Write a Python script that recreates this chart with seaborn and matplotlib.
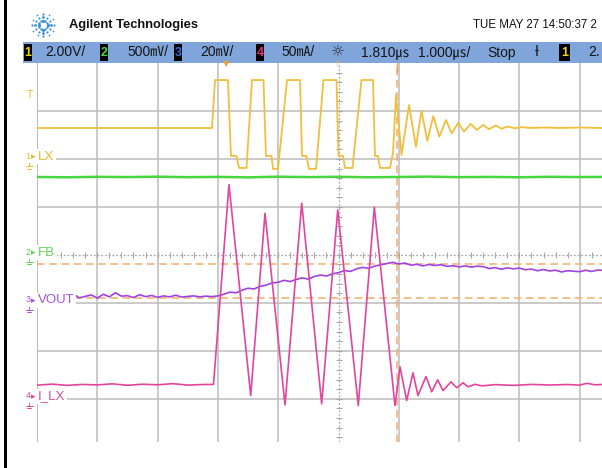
import numpy as np
import pandas as pd
import matplotlib
matplotlib.use("Agg")
import matplotlib.pyplot as plt
import seaborn as sns
from matplotlib.patches import Rectangle

# ---------------- data (read from the screen) ----------------
# time in µs from the left edge of the screen (1 µs/div)
lx_t = [0.0, 2.902, 2.952, 3.167, 3.217, 3.308, 3.350, 3.474, 3.566, 3.756, 3.797, 3.889,
        3.914, 3.997, 4.146, 4.362, 4.395, 4.469, 4.511, 4.627, 4.751, 4.967, 5.000, 5.075,
        5.108, 5.232, 5.381, 5.572, 5.605, 5.655, 5.688, 5.854, 5.904, 5.954, 6.045, 6.169,
        6.285, 6.376, 6.473, 6.572, 6.672, 6.783, 6.877, 6.987, 7.081, 7.192, 7.292, 7.401,
        7.491, 7.612, 7.695, 7.811, 7.927, 8.043, 8.176, 8.425, 8.673, 9.005, 9.370]
lx_v = [1.29, 1.29, 3.29, 3.29, 0.125, 0.125, -0.375, -0.375, 3.29, 3.29, 0.125, 0.125,
        -0.417, -0.417, 3.29, 3.29, 0.125, 0.125, -0.417, -0.417, 3.29, 3.29, 0.125, 0.125,
        -0.375, -0.375, 3.29, 3.29, 0.125, 0.125, -0.375, -0.375, 0.25, 2.667, 0.167, 2.25,
        0.5, 2.01, 0.75, 1.79, 0.93, 1.625, 1.07, 1.51, 1.14, 1.46, 1.21, 1.42,
        1.24, 1.40, 1.26, 1.35, 1.28, 1.33, 1.29, 1.31, 1.29, 1.31, 1.29]

fb_t = [0, 0.5, 1.0, 1.5, 2.0, 2.5, 3.0, 3.5, 4.0, 4.5, 5.0, 5.5, 6.0, 6.5, 7.0, 7.5,
        8.0, 8.5, 9.0, 9.37]
fb_v = [0.812, 0.809, 0.814, 0.811, 0.815, 0.810, 0.813, 0.808, 0.815, 0.811, 0.814,
        0.809, 0.812, 0.816, 0.810, 0.813, 0.809, 0.814, 0.811, 0.813]

vout_mv = [2.4, 3.1, 2.2, 2.9, 3.5, 2.6, 3.8, 2.1, 2.7, 3.3,
           2.0, 3.6, 2.5, 4.2, 2.8, 3.0, 2.2, 3.4, 2.6, 3.1,
           2.3, 2.9, 2.5, 3.2, 2.4, 2.7, 2.9, 2.5, 2.8, 2.6,
           2.9, 3.6, 4.5, 4.2, 5.3, 6.1, 5.8, 6.9, 7.4, 8.3,
           8.6, 9.4, 8.9, 9.8, 10.4, 9.9, 11.0, 11.6, 11.2, 12.1,
           12.6, 13.5, 13.1, 14.2, 14.8, 14.4, 15.3, 15.9, 16.4, 16.9,
           16.2, 16.6, 15.7, 16.1, 15.4, 16.0, 15.6, 15.9, 15.2, 15.5,
           15.0, 15.4, 14.9, 15.3, 15.1, 14.3, 14.7, 14.0, 14.6, 14.2,
           14.5, 13.8, 14.1, 13.4, 13.9, 13.3, 13.6, 12.9, 13.4, 13.2,
           13.0, 13.6, 13.1, 13.7, 13.5]
vout_t = np.round(np.arange(len(vout_mv)) * 0.1, 2)   # 0.1 µs sample grid

ilx_t = [0.0, 0.25, 0.5, 0.75, 1.0, 1.25, 1.5, 1.75, 2.0, 2.25, 2.5, 2.75, 2.927,
         3.184, 3.544, 3.781, 4.113, 4.390, 4.721, 4.987, 5.328, 5.594, 5.937,
         6.020, 6.131, 6.235, 6.318, 6.451, 6.546, 6.645, 6.733, 6.866, 6.960, 7.065,
         7.148, 7.264, 7.380, 7.6, 7.9, 8.2, 8.5, 8.8, 9.0, 9.12, 9.25, 9.37]
ilx_ma = [14.2, 15.3, 14.0, 15.0, 14.5, 15.6, 14.1, 15.2, 14.6, 15.8, 14.3, 14.9, 15.0,
          223.2, 3.4, 193.4, -6.3, 203.9, -5.2, 196.9, -7.0, 199.7, -7.0,
          33.3, -1.8, 27.1, 3.4, 23.2, 7.3, 19.8, 8.6, 17.7, 11.5, 16.7,
          12.5, 15.1, 13.5, 14.8, 14.0, 15.0, 14.4, 14.9, 14.3, 16.2, 14.6, 14.9]

cursor_t = 5.965            # µs
cursor_mv = [16.1, 2.0]     # VOUT cursors, mV

channels = ["LX", "FB", "VOUT", "I_LX"]
ch_scale = {"LX": 2.0, "FB": 0.5, "VOUT": 20.0, "I_LX": 50.0}   # units per div
ch_ground = {"LX": 6, "FB": 4, "VOUT": 3, "I_LX": 1}           # div from bottom
ch_color = {"LX": "#f2bf3c", "FB": "#48d640", "VOUT": "#a042e0", "I_LX": "#e2449e"}
ch_label_color = {"LX": "#eab830", "FB": "#62d458", "VOUT": "#a850e6", "I_LX": "#e04a98"}
ch_num = {"LX": "1", "FB": "2", "VOUT": "3", "I_LX": "4"}

bar_texts = ["2.00V/", "500㎷/", "20㎷/", "50㎃/", "1.810㎲", "1.000㎲/", "Stop"]
header_title = "Agilent Technologies"
header_date = "TUE MAY 27 14:50:37 2"

# ---------------- figure ----------------
sns.set_style("white")
plt.rcParams["font.family"] = ["Liberation Sans", "DejaVu Sans", "Noto Sans CJK JP"]

W, H = 602, 468
fig = plt.figure(figsize=(W / 100, H / 100), dpi=100)
fig.patch.set_facecolor("white")

top_px, bot_px, left_px = 63, 442, 37
ax = fig.add_axes([left_px / W, (H - bot_px) / H, (W - left_px) / W, (bot_px - top_px) / H])
ax.set_xlim(0, (W - left_px) / 60.3)
ax.set_ylim(0.1, 8)
for s in ax.spines.values():
    s.set_visible(False)
ax.set_xticks([]); ax.set_yticks([])

grid_c = "#bcbcbc"
for t in range(0, 10):
    if t == 5:
        continue
    ax.axvline(t, color=("#a8a8a8" if t == 0 else grid_c), lw=1.1, zorder=1)
for y in range(1, 8):
    if y == 4:
        continue
    ax.axhline(y, color=grid_c, lw=1.1, zorder=1)
# centre axes: dotted with minor ticks
ax.axvline(5, color="#a8a8a8", lw=0.9, ls=(0, (1.5, 1.5)), zorder=1)
ax.axhline(4, color="#a8a8a8", lw=0.9, ls=(0, (1.5, 1.5)), zorder=1)
tk = np.arange(0.2, 9.4, 0.2)
ax.plot(tk, np.full_like(tk, 4.0), ls="none", marker="|", ms=4, mew=0.8, color="#a8a8a8", zorder=1)
tky = np.arange(0.2, 8.0, 0.2)
ax.plot(np.full_like(tky, 5.0), tky, ls="none", marker="_", ms=4, mew=0.8, color="#a8a8a8", zorder=1)

# cursors
cur_c = "#f4ad6a"
ax.axvline(cursor_t, color=cur_c, lw=1.1, ls=(0, (5, 3)), zorder=2)
for mv in cursor_mv:
    ax.axhline(ch_ground["VOUT"] + mv / ch_scale["VOUT"], color=cur_c, lw=1.1, ls=(0, (5, 3)), zorder=2)

# traces
traces = {
    "FB": (fb_t, fb_v, 1.8),
    "LX": (lx_t, lx_v, 1.3),
    "VOUT": (vout_t, vout_mv, 1.2),
    "I_LX": (ilx_t, ilx_ma, 1.2),
}
for ch in ["FB", "LX", "VOUT", "I_LX"]:
    t, v, lw = traces[ch]
    df = pd.DataFrame({"t": t, "y": ch_ground[ch] + np.asarray(v) / ch_scale[ch]})
    sns.lineplot(data=df, x="t", y="y", ax=ax, color=ch_color[ch], lw=lw,
                 estimator=None, sort=False, zorder=3)
ax.set_xlabel(""); ax.set_ylabel("")
ax.set_xticks([]); ax.set_yticks([])

# channel labels on the left, with number, arrow and ground symbol
for ch in channels:
    g = ch_ground[ch]
    c = ch_label_color[ch]
    ax.text(0.018, g + 0.05, ch, color=c, fontsize=9.5, va="center", ha="left", clip_on=False,
            zorder=6, bbox=dict(facecolor="white", edgecolor="none", pad=1.0))
    ax.text(-0.19, g + 0.06, ch_num[ch], color=c, fontsize=6.5, va="center", ha="left",
            clip_on=False, zorder=6)
    ax.text(-0.105, g + 0.05, "▸", color=c, fontsize=6.5, va="center", ha="left",
            clip_on=False, zorder=6, family=["DejaVu Sans"])
    # ground symbol (no installed font has ⏚)
    gx = -0.13
    ax.plot([gx, gx], [g - 0.08, g - 0.15], color=c, lw=0.7, clip_on=False, zorder=6)
    ax.plot([gx - 0.06, gx + 0.06], [g - 0.15, g - 0.15], color=c, lw=0.7, clip_on=False, zorder=6)
    ax.plot([gx - 0.03, gx + 0.03], [g - 0.20, g - 0.20], color=c, lw=0.7, clip_on=False, zorder=6)
ax.text(-0.12, 7.33, "T", color="#eab830", fontsize=7.5, va="center", ha="center",
        clip_on=False, zorder=6)

# ---------------- header overlay ----------------
ov = fig.add_axes([0, 0, 1, 1])
ov.set_xlim(0, W); ov.set_ylim(H, 0)
ov.axis("off")
ov.set_zorder(5)
ov.patch.set_alpha(0)

# left black border
ov.add_patch(Rectangle((4, 0), 3, H, color="black", lw=0))

# logo (spark)
cx, cy = 43, 25
for k in range(12):
    a = np.pi * 2 * k / 12
    for r, s in [(4.5, 5), (8, 4), (11, 2.5)]:
        ov.scatter(cx + r * np.cos(a), cy + r * np.sin(a), s=s * (1.0 if k % 3 == 0 else 0.6),
                   color="#3a8fd8", lw=0)
ov.text(69, 25, header_title, fontsize=9.3, weight="bold", va="center", ha="left",
        color="#111111")
ov.text(473, 25, header_date, fontsize=8.3, va="center", ha="left", color="#111111")

# status bar
ov.add_patch(Rectangle((23, 42), W - 23, 20.5, color="#80a5da", lw=0))

def box(x, digit, c, w=8):
    ov.add_patch(Rectangle((x, 44), w, 16.5, color="black", lw=0))
    ov.text(x + w / 2, 52.5, digit, color=c, fontsize=9, weight="bold", va="center", ha="center")

box(24, "1", "#f0d21a")
box(100, "2", "#3ee03a")
box(174, "3", "#3a6ee8")
box(256, "4", "#e2327a")
box(559, "1", "#f0d21a", w=11)

bar_x = [45, 127, 200, 281, 361, 418, 487]
for x, s in zip(bar_x, bar_texts):
    ov.text(x, 52.5, s, fontsize=10, va="center", ha="left", color="#151515",
            family=["Liberation Sans", "Noto Sans CJK JP", "DejaVu Sans"])
ov.text(338, 52, "☼", fontsize=11, va="center", ha="center", color="#2a2a2a",
        family=["DejaVu Sans"])
ov.text(537, 52.5, "ƚ", fontsize=10, va="center", ha="center", color="#151515",
        family=["DejaVu Sans"])
ov.text(588, 52.5, "2.", fontsize=10, va="center", ha="left", color="#151515")

# markers under the bar
ov.text(226, 64, "▼", fontsize=6, color="#f09a3a", va="center", ha="center", family=["DejaVu Sans"])
ov.text(338, 64, "▽", fontsize=5, color="#f0a860", va="center", ha="center", family=["DejaVu Sans"])
ov.plot([397, 397], [63, 72], color="#f0a860", lw=1)

fig.savefig("out.png", dpi=100, facecolor="white")
